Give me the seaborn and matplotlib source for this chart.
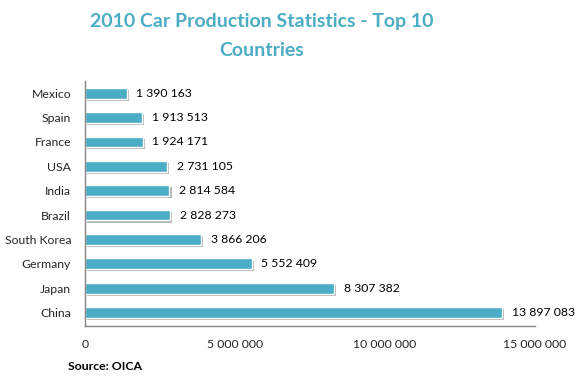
import pandas as pd
import numpy as np
import matplotlib
matplotlib.use('Agg')
import matplotlib.pyplot as plt
import matplotlib.patheffects as pe
import seaborn as sns

countries = ['Mexico', 'Spain', 'France', 'USA', 'India', 'Brazil',
             'South Korea', 'Germany', 'Japan', 'China']
production = [1390163, 1913513, 1924171, 2731105, 2814584, 2828273,
              3866206, 5552409, 8307382, 13897083]
x_ticks = [0, 5000000, 10000000, 15000000]

df = pd.DataFrame({'country': countries, 'production': production})

sns.set_style('white')
plt.rcParams['font.family'] = ['Lato', 'DejaVu Sans']

bar_color = '#4bacc6'
grey = '#868686'

fig = plt.figure(figsize=(5.76, 3.79), dpi=100)
ax = fig.add_axes([85 / 576, 1 - 326 / 379, 450 / 576, 245 / 379])

sns.barplot(data=df, y='country', x='production', orient='h', color=bar_color,
            width=0.44, saturation=1, edgecolor='white', linewidth=1, ax=ax)

for p in ax.patches:
    p.set_path_effects([pe.SimplePatchShadow(offset=(1.5, -1.5), alpha=0.35),
                        pe.Normal()])

def fmt(v):
    return f'{int(v):,}'.replace(',', ' ')

for i, v in enumerate(production):
    ax.annotate(fmt(v), xy=(v, i), xytext=(7, 0), textcoords='offset points',
                va='center', ha='left', fontsize=8.8, color='black')

ax.set_xlim(0, 15000000)
ax.set_ylim(len(countries) - 0.5 + 0.05, -0.5)
ax.set_xticks(x_ticks)
ax.set_xticklabels([fmt(t) for t in x_ticks], fontsize=8.8)
ax.tick_params(axis='x', direction='out', length=4, color=grey, pad=5)
ax.tick_params(axis='y', length=0, labelsize=8.8, pad=10)
ax.set_xlabel('')
ax.set_ylabel('')

for s in ['top', 'right']:
    ax.spines[s].set_visible(False)
for s in ['left', 'bottom']:
    ax.spines[s].set_color(grey)
    ax.spines[s].set_linewidth(1)

fig.text(0.455, 1 - 22 / 379, '2010 Car Production Statistics - Top 10',
         ha='center', va='center', fontsize=14, fontweight='bold', color=bar_color)
fig.text(0.455, 1 - 50 / 379, 'Countries',
         ha='center', va='center', fontsize=14, fontweight='bold', color=bar_color)
fig.text(68 / 576, 1 - 367 / 379, 'Source: OICA', ha='left', va='center',
         fontsize=8.8, fontweight='bold', color='black')

fig.savefig('out.png', dpi=100)
